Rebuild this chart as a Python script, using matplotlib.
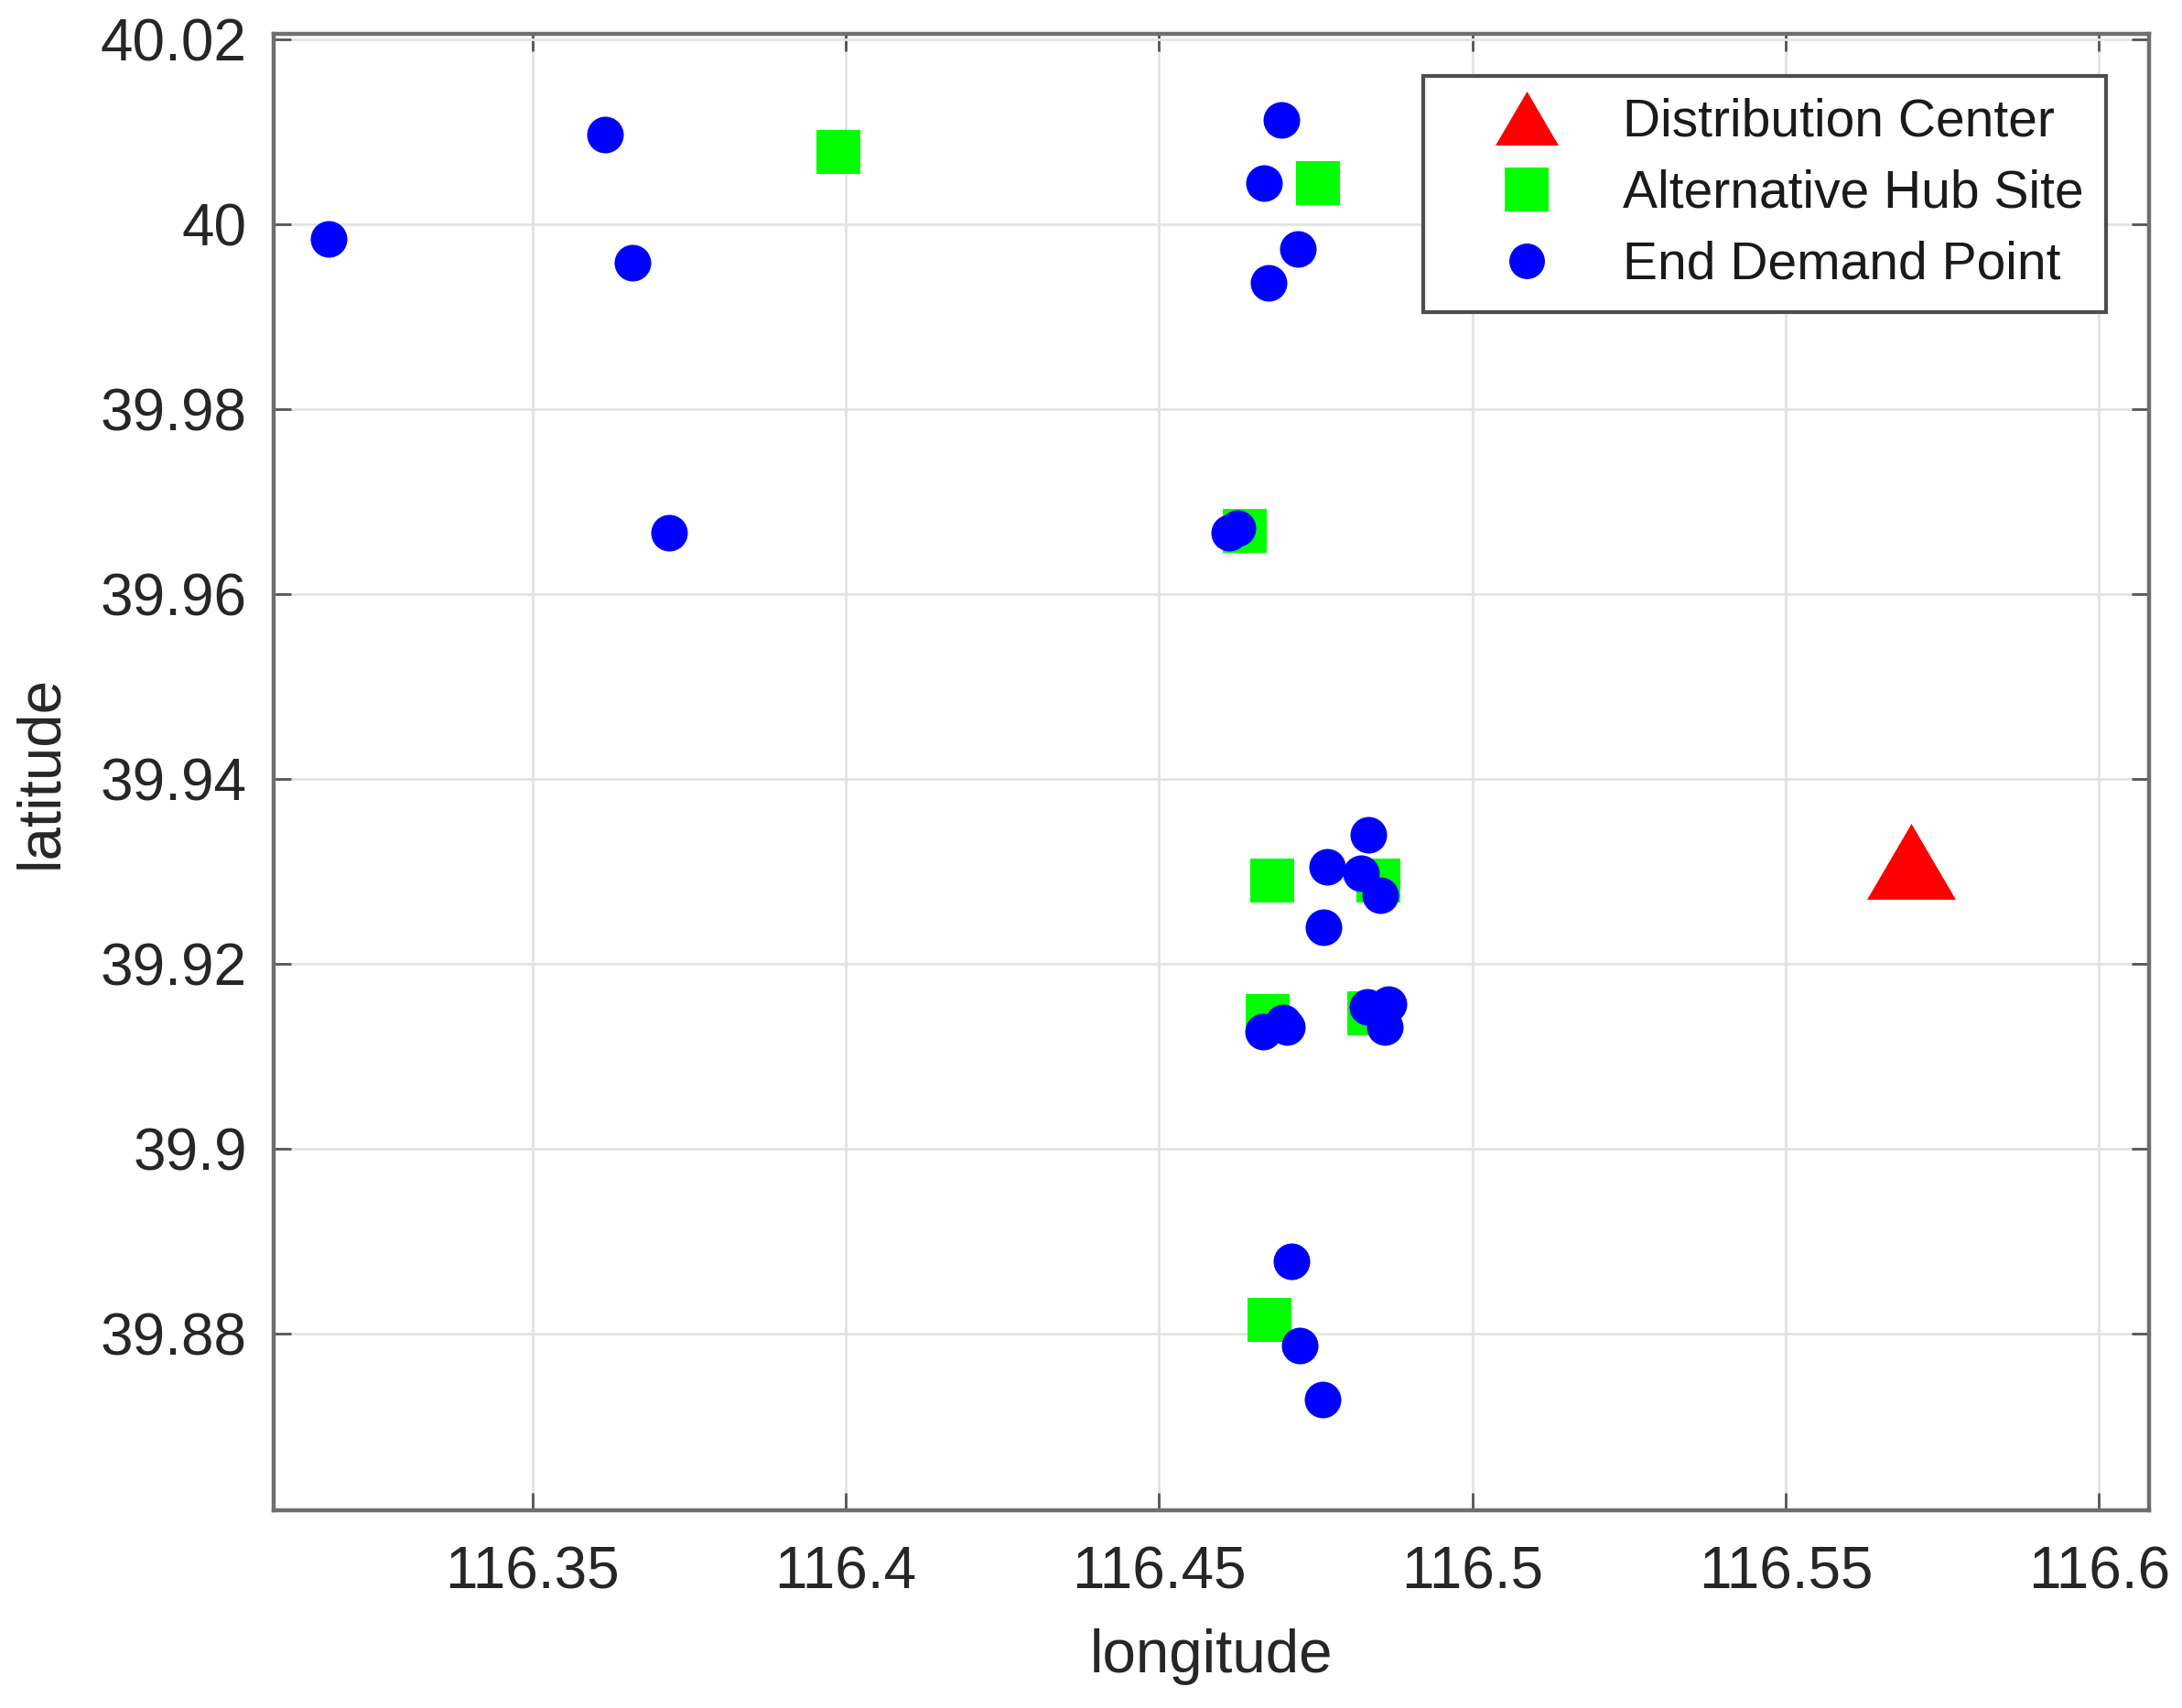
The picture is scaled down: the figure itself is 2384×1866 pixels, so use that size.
import matplotlib
matplotlib.use("Agg")
import matplotlib.pyplot as plt
from matplotlib.lines import Line2D
import numpy as np

plt.rcParams['font.family'] = ['Liberation Sans', 'DejaVu Sans']

# Distribution center
dc_lon = [116.5700]
dc_lat = [39.9311]

# Alternative hub sites
hub_lon = [116.3989, 116.4754, 116.4637, 116.4681, 116.4850, 116.4673, 116.4835, 116.4676]
hub_lat = [40.0078, 40.0044, 39.9668, 39.9290, 39.9290, 39.9143, 39.9146, 39.8815]

# End demand points
dem_lon = [116.3174, 116.3616, 116.3659, 116.3718,
           116.4695, 116.4668, 116.4722, 116.4675, 116.4612, 116.4625,
           116.4834, 116.4768, 116.4822, 116.4853, 116.4763,
           116.4666, 116.4698, 116.4704, 116.4832, 116.4866, 116.4861,
           116.4711, 116.4725, 116.4761]
dem_lat = [39.9984, 40.0097, 39.9958, 39.9666,
           40.0113, 40.0044, 39.9973, 39.9936, 39.9666, 39.9671,
           39.9339, 39.9305, 39.9298, 39.9274, 39.9239,
           39.9127, 39.9137, 39.9132, 39.9153, 39.9156, 39.9132,
           39.8878, 39.8787, 39.8729]

xticks = [116.35, 116.40, 116.45, 116.50, 116.55, 116.60]
xticklabels = ["116.35", "116.4", "116.45", "116.5", "116.55", "116.6"]
yticks = [39.88, 39.90, 39.92, 39.94, 39.96, 39.98, 40.00, 40.02]
yticklabels = ["39.88", "39.9", "39.92", "39.94", "39.96", "39.98", "40", "40.02"]

legend_labels = ["Distribution Center", "Alternative Hub Site", "End Demand Point"]

fig = plt.figure(figsize=(11.92, 9.33), dpi=200)
ax = fig.add_axes([0.1254, 0.1158, 0.9849 - 0.1254, 0.9804 - 0.1158])

tri = [(0, 0.855), (-1, -0.855), (1, -0.855)]

ax.plot(hub_lon, hub_lat, linestyle='none', marker='s', markersize=17.5,
        color=(0, 1, 0), markeredgewidth=0, zorder=3)
ax.plot(dem_lon, dem_lat, linestyle='none', marker='o', markersize=14.4,
        color=(0, 0, 1), markeredgewidth=0, zorder=4)
ax.plot(dc_lon, dc_lat, linestyle='none', marker=tri, markersize=34.9,
        color=(1, 0, 0), markeredgewidth=0, zorder=5)

ax.set_xlim(116.3087, 116.608)
ax.set_ylim(39.8609, 40.0206)
ax.set_xticks(xticks)
ax.set_xticklabels(xticklabels)
ax.set_yticks(yticks)
ax.set_yticklabels(yticklabels)

ax.grid(True, color='#e3e3e3', linewidth=1.0, zorder=0)
ax.set_axisbelow(True)

for sp in ax.spines.values():
    sp.set_color('#6e6e6e')
    sp.set_linewidth(1.6)

ax.tick_params(axis='both', direction='in', length=7, width=1.0, color='#555555',
               labelsize=23, labelcolor='#262626', top=True, right=True)
ax.tick_params(axis='y', pad=10.5)
ax.tick_params(axis='x', pad=14)

ax.set_xlabel("longitude", fontsize=23.6, color='#262626', labelpad=11)
ax.set_ylabel("latitude", fontsize=23.6, color='#262626', labelpad=12)

handles = [
    Line2D([], [], linestyle='none', marker=tri, markersize=24.8, color=(1, 0, 0), markeredgewidth=0),
    Line2D([], [], linestyle='none', marker='s', markersize=17.6, color=(0, 1, 0), markeredgewidth=0),
    Line2D([], [], linestyle='none', marker='o', markersize=14.0, color=(0, 0, 1), markeredgewidth=0),
]
leg = ax.legend(handles, legend_labels, loc='upper right',
                bbox_to_anchor=(2301 / 2384, 1 - 83 / 1866), bbox_transform=fig.transFigure,
                borderaxespad=0, fontsize=20.5, frameon=True, fancybox=False,
                borderpad=0.42, handlelength=3.12, handletextpad=0.3, labelspacing=0.42,
                framealpha=1)
leg.get_frame().set_edgecolor('#4d4d4d')
leg.get_frame().set_linewidth(1.5)
for t in leg.get_texts():
    t.set_color('#1a1a1a')

fig.savefig("out.png", dpi=200)
